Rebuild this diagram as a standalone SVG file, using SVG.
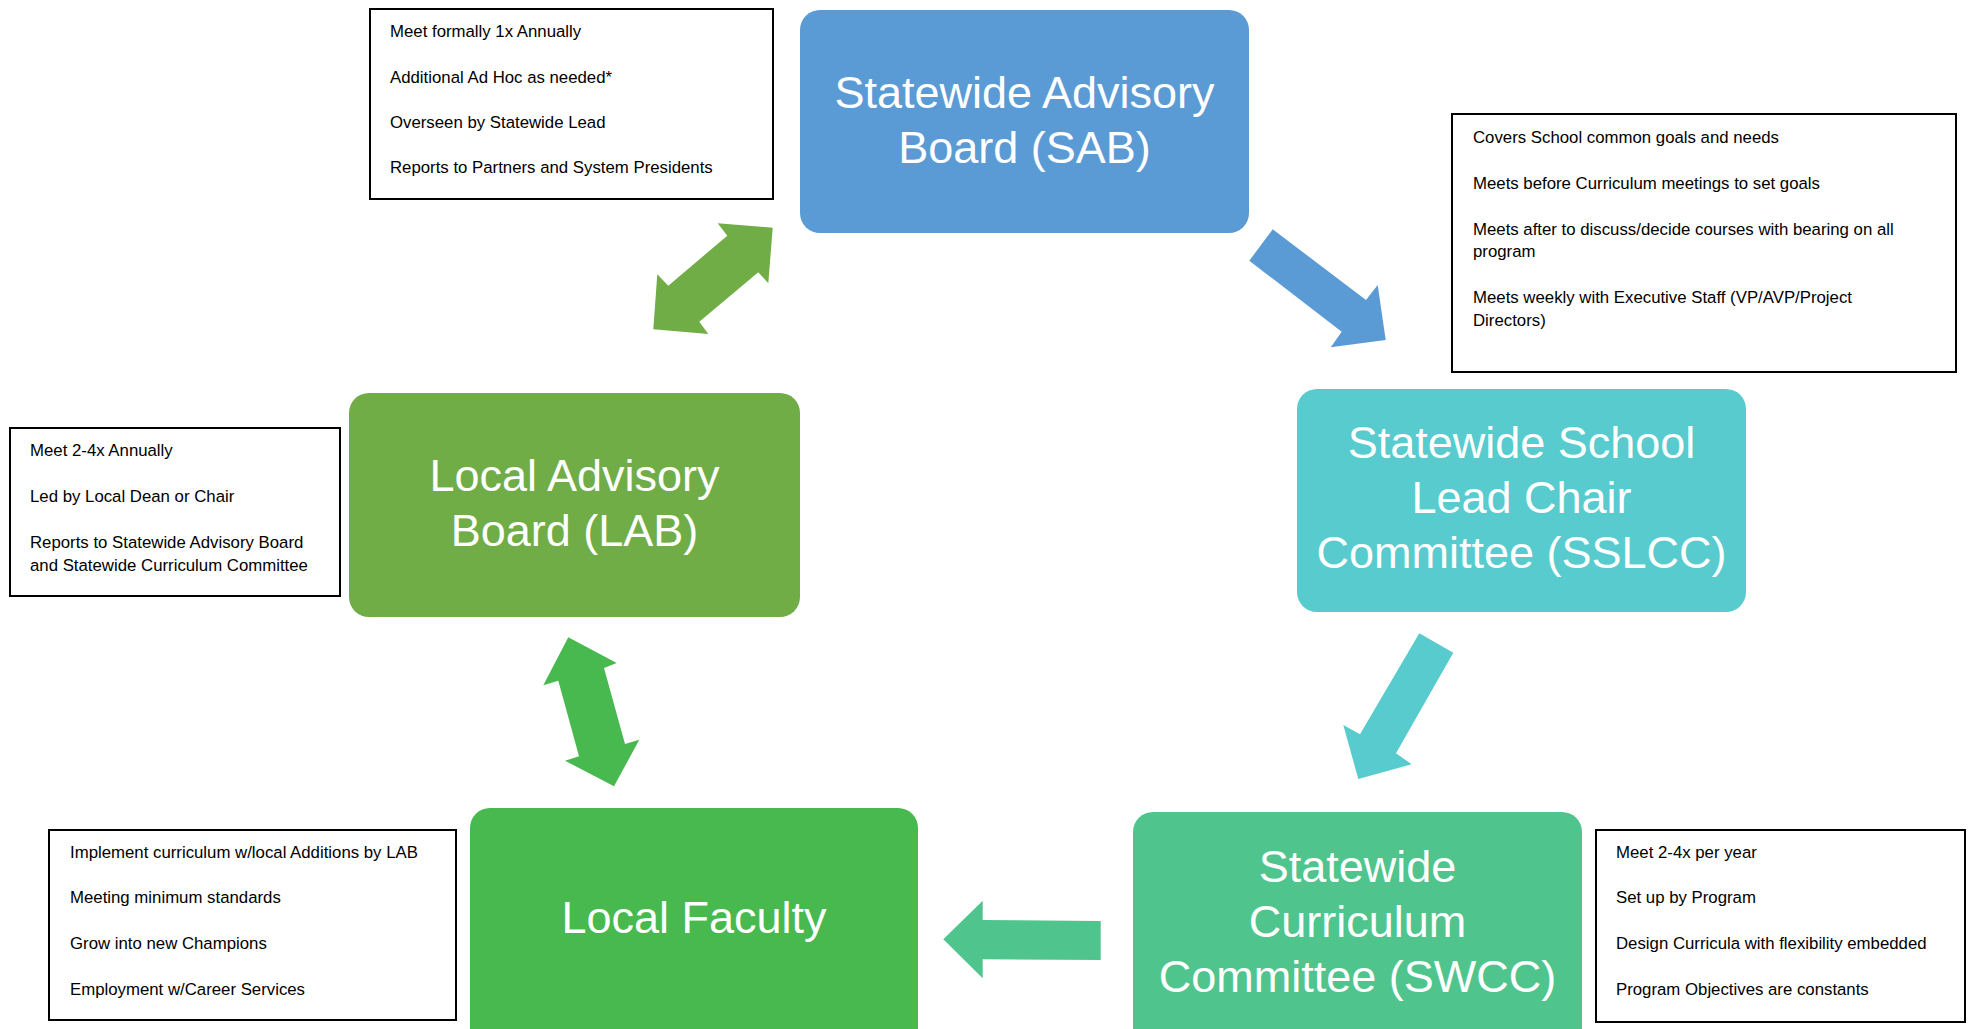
<svg xmlns="http://www.w3.org/2000/svg" width="1972" height="1029" viewBox="0 0 1972 1029">
<style>
.node-text{font-family:"Liberation Sans",Arial,sans-serif;font-size:45px;fill:#ffffff;text-anchor:middle}
.note{fill:#ffffff;stroke:#000000;stroke-width:2}
.note-text{font-family:"Liberation Sans",Arial,sans-serif;font-size:16.8px;fill:#000000}
</style>
<rect width="1972" height="1029" fill="#ffffff"/>
<g id="connectors">
<polygon id="arrow-sab-lab" fill="#70AD47" points="772.7,227.7 768.3,283.3 758.3,272.3 699.3,321.7 708.3,334 653.3,329.3 657.3,274.3 668.3,285.7 727.3,235.7 717.7,223.3"/>
<polygon id="arrow-sab-sslcc" fill="#5B9BD5" points="1272.7,229.3 1366,300 1377.7,285 1385.7,340 1330.7,347.3 1341.7,331.7 1249.3,260.7"/>
<polygon id="arrow-sslcc-swcc" fill="#57CBCD" points="1419.3,633.3 1453.3,652.7 1396,753.3 1411.7,764.3 1358.3,779 1343.3,725 1360,734.3"/>
<polygon id="arrow-lab-lf" fill="#47B94F" points="568.3,637.3 616.7,663 604,668 625,744 639.3,739.7 614,786.3 565,760.7 579,756.3 558.3,680.7 543.3,685.3"/>
<polygon id="arrow-swcc-lf" fill="#4FC58D" points="943.3,939.3 982.7,900.7 982.7,920 1100.7,921 1100.7,960 982.7,959.3 982.7,978.3"/>
</g>
<g id="sab">
<rect x="800" y="10" width="449" height="223" rx="20" fill="#5B9BD5"/>
<text class="node-text" x="1024.5" y="108">Statewide Advisory</text>
<text class="node-text" x="1024.5" y="163">Board (SAB)</text>
</g>
<g id="sslcc">
<rect x="1297" y="389" width="449" height="223" rx="20" fill="#57CBCD"/>
<text class="node-text" x="1521.5" y="458">Statewide School</text>
<text class="node-text" x="1521.5" y="513">Lead Chair</text>
<text class="node-text" x="1521.5" y="568">Committee (SSLCC)</text>
</g>
<g id="swcc">
<rect x="1133" y="812" width="449" height="240" rx="20" fill="#4FC58D"/>
<text class="node-text" x="1357.5" y="882">Statewide</text>
<text class="node-text" x="1357.5" y="937">Curriculum</text>
<text class="node-text" x="1357.5" y="992">Committee (SWCC)</text>
</g>
<g id="lf">
<rect x="470" y="808" width="448" height="240" rx="20" fill="#47B94F"/>
<text class="node-text" x="694" y="933">Local Faculty</text>
</g>
<g id="lab">
<rect x="349" y="393" width="451" height="224" rx="20" fill="#70AD47"/>
<text class="node-text" x="574.5" y="491">Local Advisory</text>
<text class="node-text" x="574.5" y="546">Board (LAB)</text>
</g>
<g id="note-sab">
<rect class="note" x="370" y="9" width="403" height="190"/>
<text class="note-text" x="390" y="37">Meet formally 1x Annually</text>
<text class="note-text" x="390" y="83">Additional Ad Hoc as needed*</text>
<text class="note-text" x="390" y="128">Overseen by Statewide Lead</text>
<text class="note-text" x="390" y="173">Reports to Partners and System Presidents</text>
</g>
<g id="note-sslcc">
<rect class="note" x="1452" y="114" width="504" height="258"/>
<text class="note-text" x="1473" y="143">Covers School common goals and needs</text>
<text class="note-text" x="1473" y="189">Meets before Curriculum meetings to set goals</text>
<text class="note-text" x="1473" y="235">Meets after to discuss/decide courses with bearing on all</text>
<text class="note-text" x="1473" y="257">program</text>
<text class="note-text" x="1473" y="303">Meets weekly with Executive Staff (VP/AVP/Project</text>
<text class="note-text" x="1473" y="326">Directors)</text>
</g>
<g id="note-lab">
<rect class="note" x="10" y="428" width="330" height="168"/>
<text class="note-text" x="30" y="456">Meet 2-4x Annually</text>
<text class="note-text" x="30" y="502">Led by Local Dean or Chair</text>
<text class="note-text" x="30" y="548">Reports to Statewide Advisory Board</text>
<text class="note-text" x="30" y="571">and Statewide Curriculum Committee</text>
</g>
<g id="note-lf">
<rect class="note" x="49" y="830" width="407" height="190"/>
<text class="note-text" x="70" y="858">Implement curriculum w/local Additions by LAB</text>
<text class="note-text" x="70" y="903">Meeting minimum standards</text>
<text class="note-text" x="70" y="949">Grow into new Champions</text>
<text class="note-text" x="70" y="995">Employment w/Career Services</text>
</g>
<g id="note-swcc">
<rect class="note" x="1596" y="830" width="369" height="192"/>
<text class="note-text" x="1616" y="858">Meet 2-4x per year</text>
<text class="note-text" x="1616" y="903">Set up by Program</text>
<text class="note-text" x="1616" y="949">Design Curricula with flexibility embedded</text>
<text class="note-text" x="1616" y="995">Program Objectives are constants</text>
</g>
</svg>
